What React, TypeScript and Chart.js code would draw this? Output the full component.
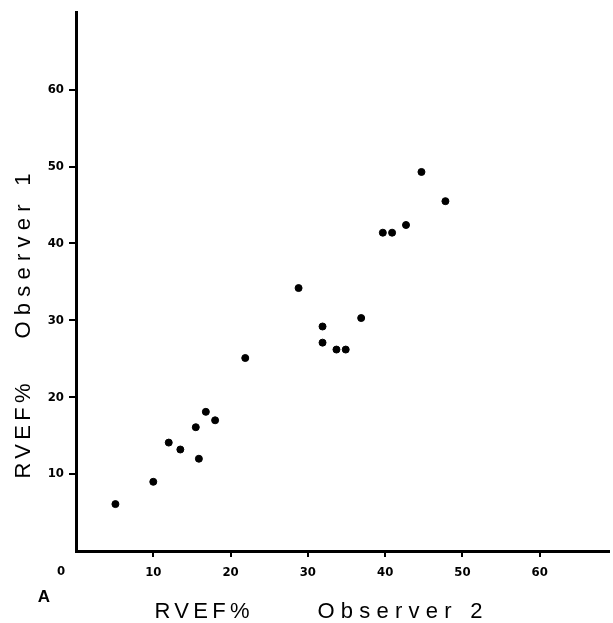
import React, { useEffect, useRef } from "react";
import { Chart, registerables } from "chart.js";

Chart.register(...registerables);

// Observer 2 (x) vs Observer 1 (y), RVEF %
const observer2 = [5.1, 10.0, 12.0, 13.5, 15.5, 15.9, 16.8, 18.0, 21.9, 28.8, 31.9, 31.9, 33.7, 34.9, 36.9, 39.7, 40.9, 42.7, 44.7, 47.8];
const observer1 = [6.1, 9.0, 14.1, 13.2, 16.1, 12.0, 18.1, 17.0, 25.1, 34.2, 29.2, 27.1, 26.2, 26.2, 30.3, 41.4, 41.4, 42.4, 49.3, 45.5];

const tickValues = [10, 20, 30, 40, 50, 60];
const xTitleParts = ["RVEF%", "Observer 2"];
const yTitleParts = ["RVEF%", "Observer 1"];
const panelLabel = "A";
const originLabel = "0";

const tickFont = "'Liberation Sans Narrow', 'DejaVu Sans Condensed', 'Liberation Sans', sans-serif";
const titleFont = "'Liberation Sans', Arial, sans-serif";

function drawSpaced(ctx: CanvasRenderingContext2D, text: string, cx: number, cy: number, width: number) {
  (ctx as any).letterSpacing = "0px";
  const w = ctx.measureText(text).width;
  const sp = Math.max(0, (width - w) / (text.length - 1));
  (ctx as any).letterSpacing = `${sp}px`;
  ctx.textAlign = "left";
  ctx.fillText(text, cx - width / 2, cy);
  (ctx as any).letterSpacing = "0px";
}

const textPlugin = {
  id: "textPlugin",
  afterDraw(chart: any) {
    const ctx = chart.ctx as CanvasRenderingContext2D;
    const xs = chart.scales.x;
    ctx.save();
    ctx.fillStyle = "#000";
    ctx.textAlign = "center";
    ctx.textBaseline = "middle";

    // origin "0" label
    ctx.font = `bold 13px ${tickFont}`;
    ctx.fillText(originLabel, xs.getPixelForValue(0) - 15, 572);

    // panel label
    ctx.font = `bold 17px ${titleFont}`;
    ctx.fillText(panelLabel, 44, 597);

    // x title
    ctx.font = `22px ${titleFont}`;
    drawSpaced(ctx, xTitleParts[0], 202, 612, 95);
    drawSpaced(ctx, xTitleParts[1], 400, 612, 165);

    // y title
    ctx.save();
    ctx.translate(24, 0);
    ctx.rotate(-Math.PI / 2);
    drawSpaced(ctx, yTitleParts[0], -431, 0, 95);
    drawSpaced(ctx, yTitleParts[1], -256, 0, 165);
    ctx.restore();

    ctx.restore();
  },
};

export default function App() {
  const ref = useRef<HTMLCanvasElement | null>(null);

  useEffect(() => {
    if (!ref.current) return;
    const points = observer2.map((x, i) => ({ x, y: observer1[i] }));
    const chart = new Chart(ref.current, {
      type: "scatter",
      data: {
        datasets: [
          {
            data: points,
            backgroundColor: "#000",
            borderColor: "#000",
            pointRadius: 3.5,
            pointHoverRadius: 3.5,
          },
        ],
      },
      options: {
        animation: false,
        responsive: false,
        devicePixelRatio: 1,
        layout: { padding: { top: 10, right: 0, left: 0, bottom: 0 } },
        plugins: { legend: { display: false }, tooltip: { enabled: false } },
        scales: {
          x: {
            type: "linear",
            min: 0,
            max: 68.9,
            afterBuildTicks: (s: any) => {
              s.ticks = tickValues.map((v) => ({ value: v }));
            },
            afterFit: (s: any) => {
              s.height = 72;
            },
            grid: { drawOnChartArea: false, drawTicks: true, tickLength: 6, color: "#000", lineWidth: 2 },
            border: { display: true, color: "#000", width: 3 },
            ticks: {
              color: "#000",
              padding: 8,
              maxRotation: 0,
              autoSkip: false,
              font: { family: tickFont, size: 13, weight: "bold" },
            },
          },
          y: {
            type: "linear",
            min: 0,
            max: 70,
            afterBuildTicks: (s: any) => {
              s.ticks = tickValues.map((v) => ({ value: v }));
            },
            afterFit: (s: any) => {
              s.width = 76;
            },
            grid: { drawOnChartArea: false, drawTicks: true, tickLength: 7, color: "#000", lineWidth: 2 },
            border: { display: true, color: "#000", width: 3 },
            ticks: {
              color: "#000",
              padding: 5,
              autoSkip: false,
              font: { family: tickFont, size: 13, weight: "bold" },
            },
          },
        },
      },
      plugins: [textPlugin],
    });
    return () => chart.destroy();
  }, []);

  return (
    <canvas
      ref={ref}
      width={613}
      height={623}
      style={{ position: "fixed", left: 0, top: 0, width: 613, height: 623, background: "#fff" }}
    />
  );
}
